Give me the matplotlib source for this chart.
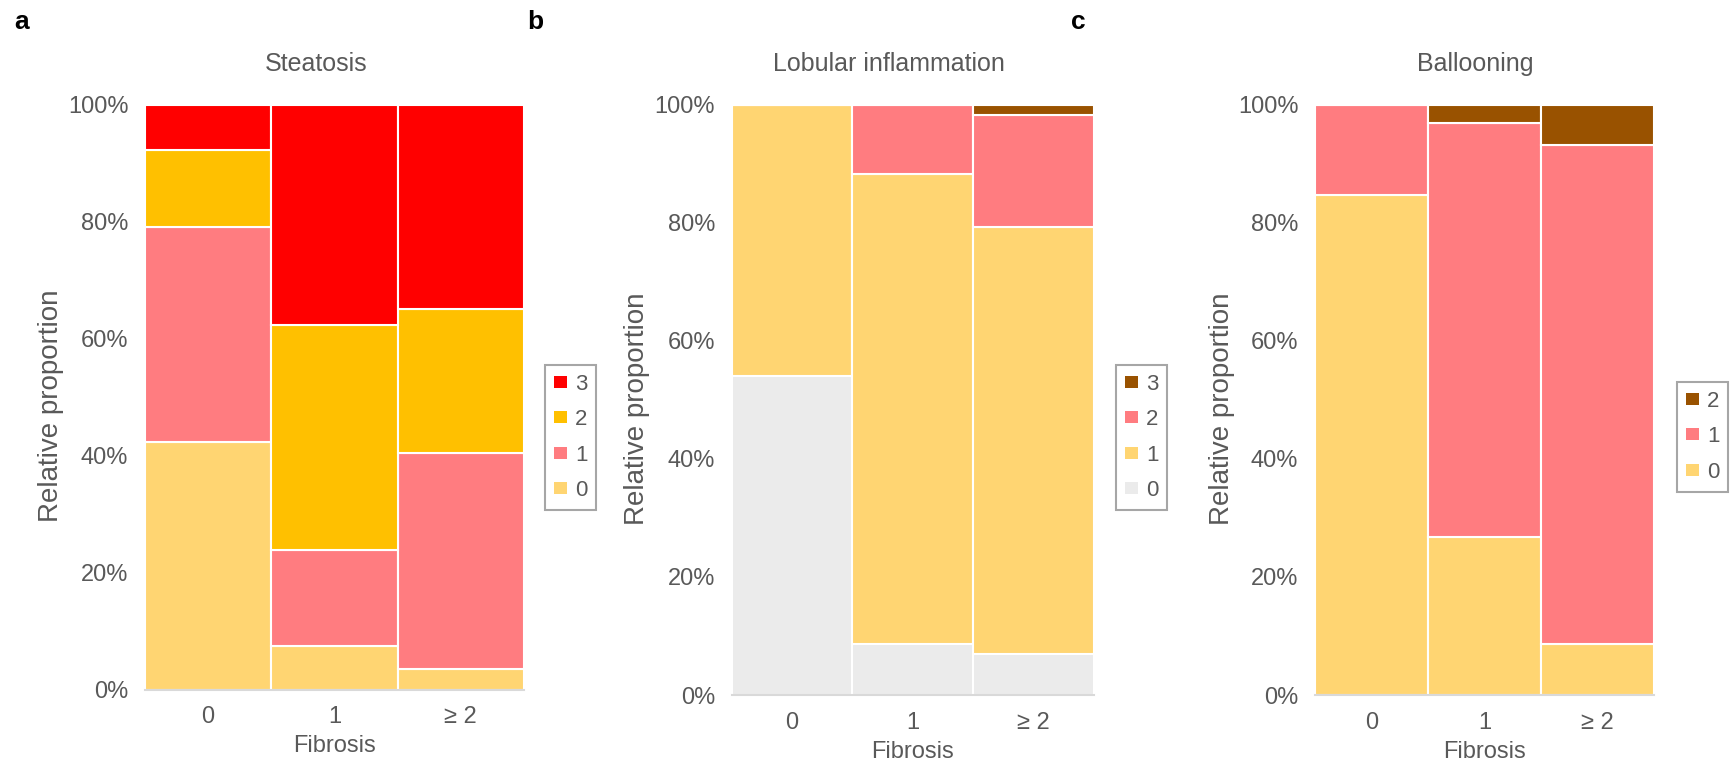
import matplotlib
matplotlib.use("Agg")
import matplotlib.pyplot as plt
from matplotlib.patches import Patch

plt.rcParams['font.family'] = ['Liberation Sans', 'DejaVu Sans']

# x categories
fibrosis = ["0", "1", "≥ 2"]

# Steatosis grades (% per fibrosis group)
steat_0 = [42.4, 7.4, 3.5]
steat_1 = [36.6, 16.4, 36.9]
steat_2 = [13.3, 38.5, 24.6]
steat_3 = [7.7, 37.7, 35.0]

# Lobular inflammation grades
lob_0 = [54.0, 8.7, 7.0]
lob_1 = [46.0, 79.5, 72.2]
lob_2 = [0.0, 11.8, 19.1]
lob_3 = [0.0, 0.0, 1.7]

# Ballooning grades
ball_0 = [84.7, 26.7, 8.7]
ball_1 = [15.3, 70.2, 84.4]
ball_2 = [0.0, 3.1, 6.9]

RED = "#FF0000"
ORANGE = "#FFC000"
SALMON = "#FF7C80"
YELLOW = "#FFD572"
GREY = "#EBEBEB"
BROWN = "#995200"
TXT = "#595959"

W, H = 1731, 763
fig = plt.figure(figsize=(W / 100, H / 100), dpi=100)


def px_axes(left, right, top, bottom):
    return fig.add_axes([left / W, 1 - bottom / H, (right - left) / W, (bottom - top) / H])


def panel(ax, series, colors, labels, title, title_x, ylab_x, leg_pos):
    x = range(len(fibrosis))
    base = [0.0] * len(fibrosis)
    for vals, col in zip(series, colors):
        ax.bar(x, vals, bottom=base, width=1.0, color=col, edgecolor="white", linewidth=1.5)
        base = [b + v for b, v in zip(base, vals)]
    ax.set_xlim(-0.5, 2.5)
    ax.set_ylim(0, 100)
    ax.set_yticks(range(0, 101, 20))
    ax.set_yticklabels([f"{t}%" for t in range(0, 101, 20)])
    ax.set_xticks(list(x))
    ax.set_xticklabels(fibrosis)
    ax.tick_params(length=0, colors=TXT, labelsize=17)
    ax.tick_params(axis="y", pad=12)
    ax.tick_params(axis="x", pad=12)
    for s in ["top", "right", "left"]:
        ax.spines[s].set_visible(False)
    ax.spines["bottom"].set_color("#D9D9D9")
    ax.spines["bottom"].set_linewidth(1.5)
    ax.set_xlabel("Fibrosis", color=TXT, fontsize=17, labelpad=5)
    ax.text(ylab_x, 0.485, "Relative proportion", transform=ax.transAxes, rotation=90,
            ha="center", va="center", color=TXT, fontsize=20)
    ax.text(title_x, 1.069, title, transform=ax.transAxes, ha="center", va="center",
            color=TXT, fontsize=18)
    handles = [Patch(facecolor=c, edgecolor="none") for c in colors][::-1]
    leg = ax.legend(handles, labels[::-1], loc="upper left",
                    bbox_to_anchor=(leg_pos[0] / W, 1 - leg_pos[1] / H),
                    bbox_transform=fig.transFigure, borderaxespad=0,
                    handlelength=0.6, handleheight=0.45, handletextpad=0.35,
                    labelspacing=0.65, fontsize=16, fancybox=False, framealpha=1,
                    borderpad=0.4, labelcolor=TXT)
    leg.get_frame().set_edgecolor("#A6A6A6")
    leg.get_frame().set_linewidth(1.5)


ax_a = px_axes(145, 524, 104.6, 689.5)
panel(ax_a, [steat_0, steat_1, steat_2, steat_3], [YELLOW, SALMON, ORANGE, RED],
      ["0", "1", "2", "3"], "Steatosis", 0.451, -0.248, (545, 365))

ax_b = px_axes(731.7, 1094, 104.6, 695)
panel(ax_b, [lob_0, lob_1, lob_2, lob_3], [GREY, YELLOW, SALMON, BROWN],
      ["0", "1", "2", "3"], "Lobular inflammation", 0.434, -0.261, (1116, 365))

ax_c = px_axes(1315, 1654, 104.6, 695)
panel(ax_c, [ball_0, ball_1, ball_2], [YELLOW, SALMON, BROWN],
      ["0", "1", "2"], "Ballooning", 0.472, -0.274, (1677, 382))

for lab, xp in [("a", 22), ("b", 535), ("c", 1078)]:
    fig.text(xp / W, 1 - 22 / H, lab, ha="center", va="center", fontsize=19,
             fontweight="bold", color="black")

fig.savefig("out.png", dpi=100)
